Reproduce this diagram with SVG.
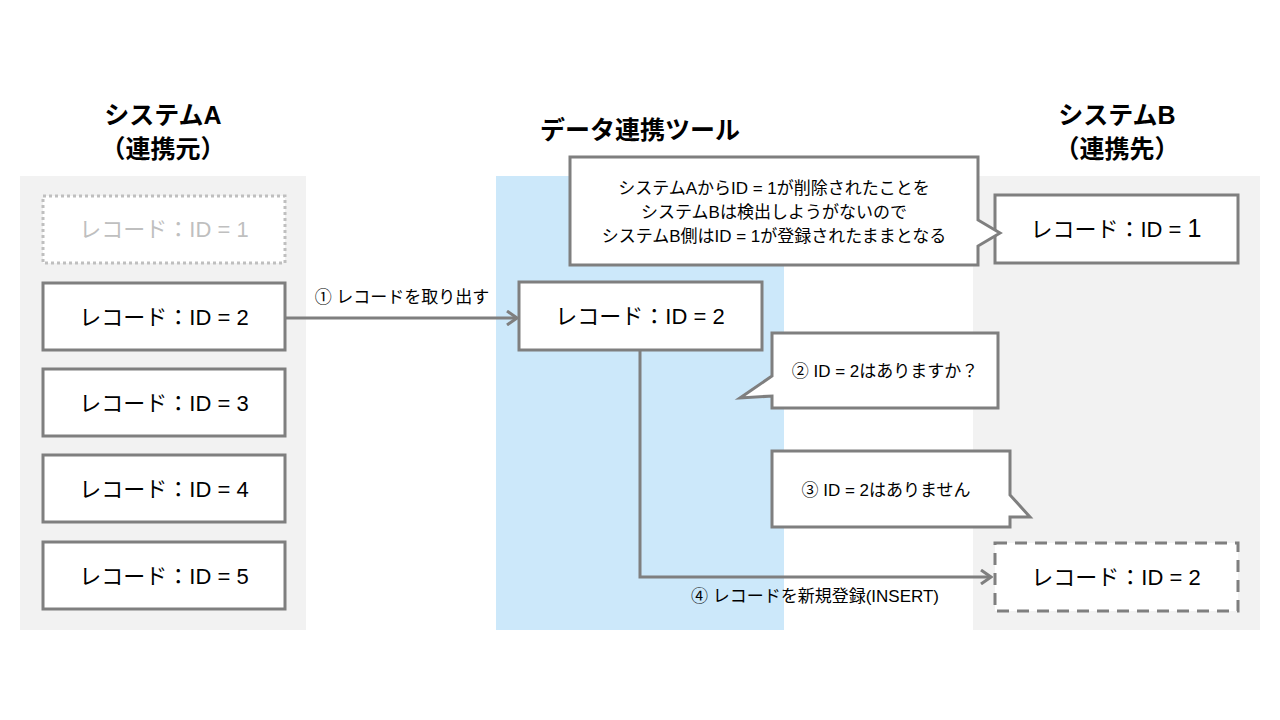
<svg xmlns="http://www.w3.org/2000/svg" width="1280" height="720" viewBox="0 0 1280 720">
<style>
text{font-family:"Liberation Sans","Noto Sans CJK JP",sans-serif;fill:#000;text-anchor:middle}
.t{font-size:25px;font-weight:bold}
.r{font-size:22px}
.s{font-size:17px}
.box{fill:#fff;stroke:#7f7f7f;stroke-width:3}
.ln{fill:none;stroke:#7f7f7f;stroke-width:3}
</style>
<defs><marker id="a" markerWidth="14" markerHeight="16" refX="12" refY="8" orient="auto" markerUnits="userSpaceOnUse"><path d="M2,1 L12,8 L2,15" fill="none" stroke="#7f7f7f" stroke-width="3"/></marker></defs>
<rect x="20" y="176" width="286" height="454" fill="#f2f2f2"/>
<rect x="496" y="176" width="288" height="454" fill="#cce8fa"/>
<rect x="973" y="176" width="287" height="454" fill="#f2f2f2"/>
<g id="titles">
<text class="t" x="163" y="124">システムA</text><text class="t" x="163" y="158">（連携元）</text>
<text class="t" x="640" y="139">データ連携ツール</text>
<text class="t" x="1117" y="124">システムB</text><text class="t" x="1117" y="158">（連携先）</text>
</g>
<g id="a1"><rect x="43" y="196" width="242" height="67" fill="#fff" stroke="#bfbfbf" stroke-width="3" stroke-dasharray="3,3"/><text class="r" x="164" y="237" style="fill:#bfbfbf">レコード：ID = 1</text></g>
<g id="a2"><rect class="box" x="43" y="283" width="242" height="67"/><text class="r" x="164" y="325">レコード：ID = 2</text></g>
<g id="a3"><rect class="box" x="43" y="369" width="242" height="67"/><text class="r" x="164" y="411">レコード：ID = 3</text></g>
<g id="a4"><rect class="box" x="43" y="455" width="242" height="67"/><text class="r" x="164" y="497">レコード：ID = 4</text></g>
<g id="a5"><rect class="box" x="43" y="542" width="242" height="67"/><text class="r" x="164" y="584">レコード：ID = 5</text></g>
<g id="m2"><rect class="box" x="519" y="282" width="243" height="68"/><text class="r" x="640" y="324">レコード：ID = 2</text></g>
<g id="b1"><rect class="box" x="995" y="195" width="243" height="68"/><text class="r" x="1116" y="237">レコード：ID = <tspan font-size="25">1</tspan></text></g>
<g id="b2"><rect x="995" y="543" width="243" height="68" fill="#fff" stroke="#7f7f7f" stroke-width="3" stroke-dasharray="12,8"/><text class="r" x="1116" y="585">レコード：ID = 2</text></g>
<g id="c1"><path class="box" d="M570,157 H978 V220 L1000,233 L978,246 V265 H570 Z"/>
<text class="s" x="774" y="194">システムAからID = 1が削除されたことを</text>
<text class="s" x="774" y="218">システムBは検出しようがないので</text>
<text class="s" x="774" y="242">システムB側はID = 1が登録されたままとなる</text></g>
<g id="c2"><path class="box" d="M772,333 H998 V408 H772 V396 L740,398 L772,376 Z"/><text class="s" x="885" y="377">② ID = 2はありますか？</text></g>
<g id="c3"><path class="box" d="M772,451 H1010 V495 L1030,517 L1010,517 V527 H772 Z"/><text class="s" x="886" y="496">③ ID = 2はありません</text></g>
<g id="connectors">
<line class="ln" x1="285" y1="318" x2="517" y2="318" marker-end="url(#a)"/>
<text class="s" x="402" y="303">① レコードを取り出す</text>
<path class="ln" d="M640,350 V577 H991" marker-end="url(#a)"/>
<text class="s" x="815" y="602">④ レコードを新規登録(INSERT)</text>
</g>
</svg>
